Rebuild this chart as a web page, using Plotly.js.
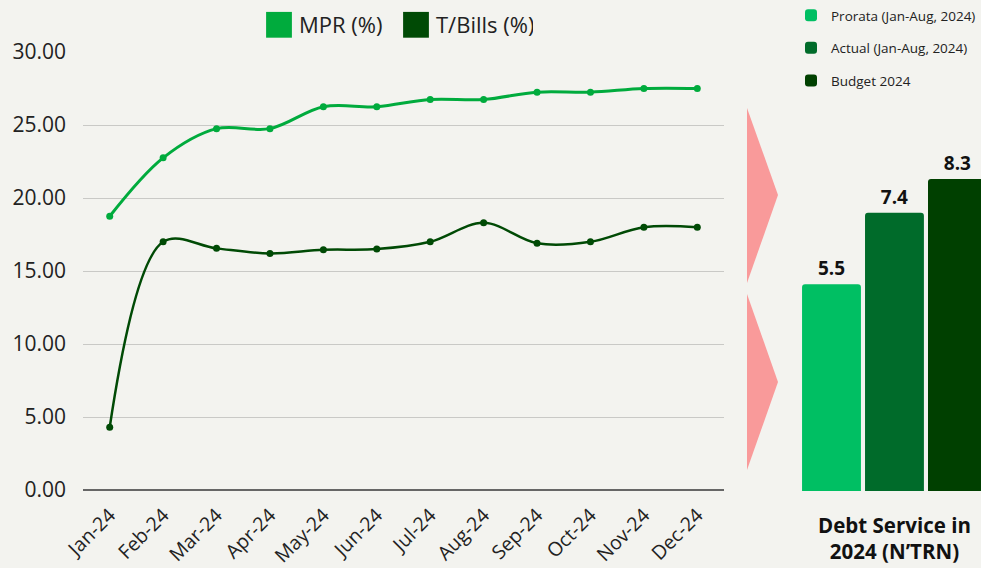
<!DOCTYPE html>
<html>
<head>
<meta charset="utf-8">
<script src="https://cdn.plot.ly/plotly-3.0.1.min.js"></script>
<style>html,body{margin:0;padding:0;background:#f3f3ef;}#chart{width:981px;height:568px;}</style>
</head>
<body>
<div id="chart"></div>
<script>
// ---- data ----
const months = ["Jan-24","Feb-24","Mar-24","Apr-24","May-24","Jun-24","Jul-24","Aug-24","Sep-24","Oct-24","Nov-24","Dec-24"];
const mpr = [18.75, 22.75, 24.75, 24.75, 26.25, 26.25, 26.75, 26.75, 27.25, 27.25, 27.50, 27.50];
const tbills = [4.30, 17.00, 16.55, 16.20, 16.45, 16.50, 17.00, 18.30, 16.90, 17.00, 18.00, 18.00];
const debtCategory = ["Debt Service in<br>2024 (N’TRN)"];
const debtSeries = ["Prorata (Jan-Aug, 2024)", "Actual (Jan-Aug, 2024)", "Budget 2024"];
const debtValues = [5.5, 7.4, 8.3];
const debtColors = ["#00bf63", "#006b2a", "#004000"];

const W = 981, H = 568;
const px = v => v / W;
const py = v => 1 - v / H;
const FONT = "Open Sans, Noto Sans, sans-serif";

const traces = [
  {type: "scatter", mode: "lines+markers", x: months, y: mpr, name: "MPR (%)",
   line: {color: "#00ab3d", width: 3, shape: "spline", smoothing: 1},
   marker: {color: "#00ab3d", size: 7}, showlegend: false, xaxis: "x", yaxis: "y", cliponaxis: false},
  {type: "scatter", mode: "lines+markers", x: months, y: tbills, name: "T/Bills (%)",
   line: {color: "#004a05", width: 2.5, shape: "spline", smoothing: 1},
   marker: {color: "#004a05", size: 7}, showlegend: false, xaxis: "x", yaxis: "y", cliponaxis: false},
  // legend entries for the line series (square swatches)
  {type: "bar", x: [null], y: [null], name: "MPR (%)", marker: {color: "#00ab3d"}, legend: "legend", xaxis: "x", yaxis: "y"},
  {type: "bar", x: [null], y: [null], name: "T/Bills (%)", marker: {color: "#004a05"}, legend: "legend", xaxis: "x", yaxis: "y"}
];

debtSeries.forEach((name, i) => {
  traces.push({
    type: "bar", x: debtCategory, y: [debtValues[i]], name: name,
    marker: {color: debtColors[i], cornerradius: 3},
    texttemplate: "%{y:.1f}", textposition: "outside", cliponaxis: false,
    textfont: {family: FONT, size: 19, color: "#111", weight: "bold"},
    legend: "legend2", legendgroup: "g" + i,
    xaxis: "x2", yaxis: "y2", hoverinfo: "y+name"
  });
});

const layout = {
  width: W, height: H,
  margin: {l: 0, r: 0, t: 0, b: 0},
  paper_bgcolor: "#f3f3ef", plot_bgcolor: "rgba(0,0,0,0)",
  font: {family: FONT, color: "#222"},
  barmode: "group", bargap: 0, bargroupgap: 0.065,
  xaxis: {
    domain: [px(83), px(724)], type: "category", range: [-0.5, 11.5],
    tickangle: -45, tickfont: {size: 19.5, color: "#222"}, showgrid: false,
    showline: false, ticks: "", ticklabelstandoff: 9, anchor: "y", fixedrange: true
  },
  yaxis: {
    domain: [py(490), py(52)], range: [0, 30], dtick: 5, tickformat: ".2f",
    gridcolor: "#c9c9c6", gridwidth: 1, zeroline: true, zerolinecolor: "#666", zerolinewidth: 1.5,
    tickfont: {size: 21, color: "#222"}, ticklabelstandoff: 16, showline: false, anchor: "x", fixedrange: true
  },
  xaxis2: {
    domain: [px(800), 1], type: "category", range: [-0.5, 0.458], anchor: "y2",
    showgrid: false, showline: false, ticks: "", ticklabelstandoff: 20,
    tickfont: {family: FONT, size: 20.5, color: "#111", weight: "bold"}, fixedrange: true
  },
  yaxis2: {
    domain: [py(491), py(52)], range: [0, 11.68], visible: false, showgrid: false,
    zeroline: false, anchor: "x2", fixedrange: true
  },
  legend: {
    orientation: "h", x: px(259), xanchor: "left", y: py(4), yanchor: "top",
    font: {size: 22, color: "#222"}, bgcolor: "rgba(0,0,0,0)", entrywidth: 92
  },
  legend2: {
    orientation: "v", x: px(791), xanchor: "left", y: py(0), yanchor: "top",
    font: {size: 13.5, color: "#222"}, bgcolor: "rgba(0,0,0,0)",
    traceorder: "grouped", tracegroupgap: 12
  },
  shapes: [
    {type: "path", xref: "paper", yref: "paper",
     path: `M ${px(747)} ${py(108)} L ${px(778)} ${py(195)} L ${px(747)} ${py(283)} Z`,
     fillcolor: "#f99a9a", line: {width: 0}},
    {type: "path", xref: "paper", yref: "paper",
     path: `M ${px(747)} ${py(294)} L ${px(778)} ${py(382)} L ${px(747)} ${py(470)} Z`,
     fillcolor: "#f99a9a", line: {width: 0}}
  ],
  showlegend: true
};

Plotly.newPlot("chart", traces, layout, {displayModeBar: false, staticPlot: true}).then(gd => {
  // enlarge the square legend swatches to match the reference
  gd.querySelectorAll(".legend").forEach(lg => {
    const isSecond = lg.classList.contains("legend2");
    const s = isSecond ? 1.3 : 2.15;
    lg.querySelectorAll(".legendpoints path").forEach(p => {
      const t = p.getAttribute("transform") || "";
      p.setAttribute("transform", t + " scale(" + s + ")");
    });
  });
});
</script>
</body>
</html>
